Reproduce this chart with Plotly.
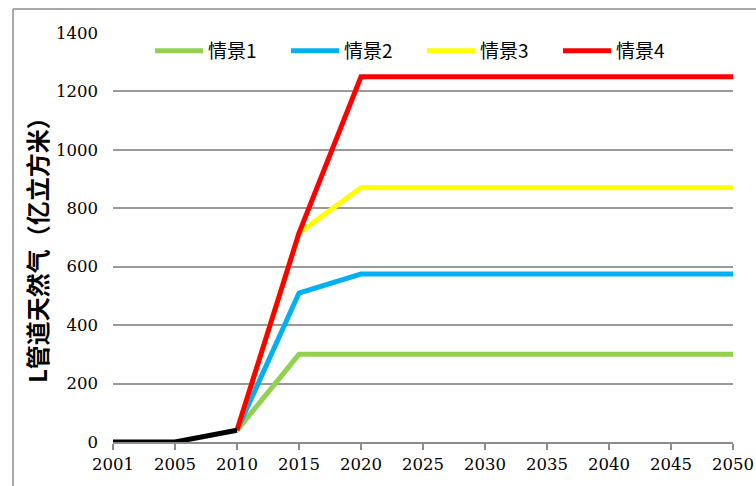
import plotly.graph_objects as go

years = ["2001", "2005", "2010", "2015", "2020", "2025", "2030", "2035", "2040", "2045", "2050"]
hist_years = ["2001", "2005", "2010"]
hist_values = [0, 0, 40]
scen_years = ["2010", "2015", "2020", "2025", "2030", "2035", "2040", "2045", "2050"]
scen1 = [40, 300, 300, 300, 300, 300, 300, 300, 300]
scen2 = [40, 510, 575, 575, 575, 575, 575, 575, 575]
scen3 = [40, 715, 870, 870, 870, 870, 870, 870, 870]
scen4 = [40, 715, 1250, 1250, 1250, 1250, 1250, 1250, 1250]
names = ["情景1", "情景2", "情景3", "情景4"]
colors = ["#92D050", "#00B0F0", "#FFFF00", "#FF0000"]
y_ticks = [0, 200, 400, 600, 800, 1000, 1200, 1400]

SERIF = "DejaVu Serif"

fig = go.Figure()
for name, vals, c in zip(names, [scen1, scen2, scen3, scen4], colors):
    fig.add_trace(go.Scatter(x=scen_years, y=vals, mode="lines", name=name,
                             line=dict(color=c, width=5)))
fig.add_trace(go.Scatter(x=hist_years, y=hist_values, mode="lines", showlegend=False,
                         line=dict(color="black", width=5)))

W, H = 756, 486
L, R, T, B = 113, 23, 33, 44
pw, ph = W - L - R, H - T - B

def px(xp):
    return (xp - L) / pw

def py(yp):
    return (H - B - yp) / ph

fig.update_layout(
    template="none",
    width=W, height=H,
    margin=dict(l=L, r=R, t=T, b=B, autoexpand=False),
    paper_bgcolor="white", plot_bgcolor="white",
    font=dict(family=SERIF, size=17, color="black"),
    showlegend=True,
    legend=dict(orientation="h", x=px(150), y=py(32), xanchor="left", yanchor="top",
                font=dict(family="Noto Sans CJK SC", size=19, color="black"),
                bgcolor="rgba(0,0,0,0)", itemwidth=48,
                entrywidth=73),
    xaxis=dict(type="category", categoryorder="array", categoryarray=years,
               range=[0, len(years) - 1], showgrid=False, automargin=False,
               showline=True, linecolor="#8c8c8c", linewidth=1.5,
               ticks="outside", ticklen=6, tickcolor="#8c8c8c", tickwidth=1.5,
               tickfont=dict(family=SERIF, size=16.5, color="black"),
               zeroline=False),
    yaxis=dict(range=[0, 1400], tickvals=y_ticks, showgrid=True, automargin=False,
               gridcolor="#999999", gridwidth=1.5, zeroline=False, showline=False,
               ticks="", ticklabelstandoff=14,
               tickfont=dict(family=SERIF, size=16.5, color="black")),
)

fig.add_annotation(text="<b>L管道天然气（亿立方米）</b>", textangle=-90, xref="paper", yref="paper",
                   x=px(36), y=py(244), xanchor="center", yanchor="middle", showarrow=False,
                   font=dict(family="Noto Sans CJK SC", size=24, color="black"))

# outer frame (top and left edges visible)
fig.add_shape(type="line", xref="paper", yref="paper", x0=px(13), x1=px(770), y0=py(9), y1=py(9),
              line=dict(color="#8c8c8c", width=1.5))
fig.add_shape(type="line", xref="paper", yref="paper", x0=px(13), x1=px(13), y0=py(9), y1=py(500),
              line=dict(color="#8c8c8c", width=1.5))

fig.write_html("out.html", config={"displayModeBar": False},
               post_script="document.body.style.margin='0';document.body.style.overflow='hidden';")
